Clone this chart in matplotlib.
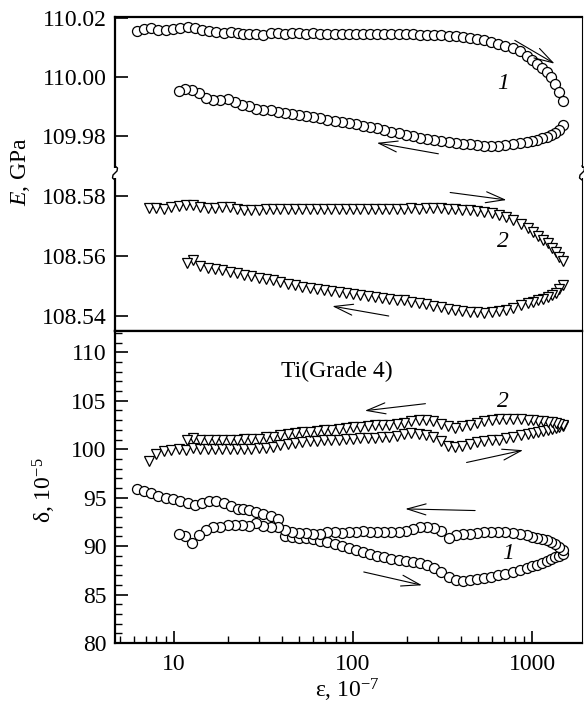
import numpy as np
import matplotlib.pyplot as plt
from matplotlib.lines import Line2D
from matplotlib.patches import Rectangle
from matplotlib.ticker import FixedLocator, MultipleLocator, FormatStrFormatter, NullFormatter, LogLocator

plt.rcParams['font.family'] = ['Liberation Serif', 'DejaVu Serif']
plt.rcParams['mathtext.fontset'] = 'custom'
plt.rcParams['mathtext.rm'] = 'Liberation Serif'
plt.rcParams['mathtext.it'] = 'Liberation Serif:italic'

# ---- sample 1 (circles): loading branch ----
eps1_up = [6.2, 6.8, 7.5, 8.2, 9.0, 9.9, 10.9, 12.0, 13.1, 14.4,
           15.8, 17.3, 19.0, 20.8, 22.8, 24.5, 26.3, 28.8, 31.6, 34.7,
           38.0, 41.6, 45.6, 50.0, 54.8, 60.0, 65.8, 72.1, 79.0, 86.6,
           94.9, 104, 114, 125, 137, 150, 164, 180, 197, 216,
           237, 260, 285, 312, 342, 375, 411, 450, 493, 540,
           592, 648, 710, 778, 852, 934, 1000, 1070, 1140, 1210,
           1280, 1350, 1420, 1480]
E1_up = [110.0155, 110.0162, 110.0165, 110.0160, 110.0160, 110.0162, 110.0167, 110.0170, 110.0167, 110.0160,
         110.0157, 110.0152, 110.0150, 110.0152, 110.0150, 110.0147, 110.0145, 110.0145, 110.0143, 110.0150,
         110.0148, 110.0147, 110.0149, 110.0148, 110.0147, 110.0148, 110.0147, 110.0146, 110.0147, 110.0146,
         110.0146, 110.0146, 110.0145, 110.0146, 110.0145, 110.0145, 110.0144, 110.0145, 110.0144, 110.0144,
         110.0143, 110.0143, 110.0142, 110.0141, 110.0140, 110.0138, 110.0136, 110.0133, 110.0130, 110.0126,
         110.0120, 110.0113, 110.0106, 110.0097, 110.0087, 110.0072, 110.0058, 110.0045, 110.0031, 110.0016,
         110.0000, 109.9975, 109.9950, 109.9920]
d1_up = [95.9, 95.7, 95.5, 95.15, 95.0, 94.9, 94.7, 94.4, 94.2, 94.4,
         94.65, 94.7, 94.4, 94.1, 93.85, 93.8, 93.7, 93.5, 93.3, 93.1,
         92.8, 91.0, 90.9, 90.8, 90.8, 90.7, 90.5, 90.4, 90.2, 90.0,
         89.8, 89.6, 89.4, 89.2, 89.0, 88.9, 88.7, 88.6, 88.5, 88.4,
         88.3, 88.1, 87.7, 87.3, 86.8, 86.5, 86.45, 86.55, 86.65, 86.75,
         86.85, 87.0, 87.15, 87.3, 87.5, 87.7, 87.9, 88.1, 88.3, 88.5,
         88.65, 88.85, 89.0, 89.2]

# ---- sample 1: unloading branch ----
eps1_dn = [1480, 1420, 1350, 1280, 1210, 1140, 1070, 1000, 934, 852,
           778, 710, 648, 592, 540, 493, 450, 411, 375, 342,
           312, 285, 260, 237, 216, 197, 180, 164, 150, 137,
           125, 114, 104, 94.9, 86.6, 79.0, 72.1, 65.8, 60.0, 54.8,
           50.0, 45.6, 41.6, 38.0, 34.7, 31.6, 28.8, 26.3, 24.0, 21.9,
           20.0, 18.2, 16.6, 15.2, 13.9, 12.7, 11.6, 10.7]
E1_dn = [109.9837, 109.9822, 109.9812, 109.9804, 109.9797, 109.9792, 109.9787, 109.9783, 109.9780, 109.9777,
         109.9773, 109.9770, 109.9767, 109.9767, 109.9768, 109.9770, 109.9772, 109.9774, 109.9777, 109.9780,
         109.9783, 109.9787, 109.9790, 109.9795, 109.9799, 109.9805, 109.9810, 109.9815, 109.9820, 109.9826,
         109.9830, 109.9835, 109.9840, 109.9844, 109.9848, 109.9852, 109.9856, 109.9860, 109.9864, 109.9868,
         109.9872, 109.9876, 109.9879, 109.9882, 109.9889, 109.9887, 109.9890, 109.9902, 109.9905, 109.9916,
         109.9924, 109.9923, 109.9923, 109.9930, 109.9945, 109.9957, 109.9960, 109.9953]
d1_dn = [89.6, 89.9, 90.2, 90.4, 90.6, 90.75, 90.85, 90.95, 91.1, 91.3,
         91.4, 91.45, 91.5, 91.5, 91.45, 91.35, 91.25, 91.2, 91.1, 90.8,
         91.6, 91.9, 92.0, 92.0, 91.8, 91.6, 91.5, 91.5, 91.45, 91.5,
         91.5, 91.6, 91.5, 91.45, 91.4, 91.45, 91.5, 91.3, 91.3, 91.4,
         91.35, 91.5, 91.7, 92.0, 92.0, 92.1, 92.4, 92.1, 92.2, 92.2,
         92.2, 92.0, 92.0, 91.7, 91.1, 90.3, 91.0, 91.3]

# ---- sample 2 (triangles): loading branch ----
eps2_up = [7.3, 8.0, 8.8, 9.7, 10.7, 11.7, 12.8, 14.1, 15.5, 17.0,
           18.7, 20.5, 22.5, 24.7, 27.1, 29.8, 32.7, 35.9, 39.4, 43.3,
           47.5, 52.2, 57.3, 62.9, 69.1, 75.9, 83.3, 91.5, 100, 110,
           121, 133, 146, 160, 176, 193, 212, 233, 256, 281,
           309, 339, 372, 409, 449, 493, 541, 594, 652, 716,
           786, 863, 947, 1010, 1080, 1150, 1220, 1290, 1360, 1420,
           1480]
E2_up = [108.5759, 108.5761, 108.5758, 108.5763, 108.5768, 108.5771, 108.5770, 108.5762, 108.5760, 108.5761,
         108.5762, 108.5763, 108.5757, 108.5755, 108.5753, 108.5755, 108.5756, 108.5756, 108.5756, 108.5757,
         108.5756, 108.5756, 108.5757, 108.5756, 108.5757, 108.5757, 108.5756, 108.5757, 108.5757, 108.5757,
         108.5757, 108.5758, 108.5757, 108.5758, 108.5758, 108.5758, 108.5759, 108.5758, 108.5759, 108.5760,
         108.5759, 108.5758, 108.5757, 108.5755, 108.5752, 108.5750, 108.5747, 108.5743, 108.5737, 108.5730,
         108.5720, 108.5708, 108.5692, 108.5680, 108.5668, 108.5655, 108.5642, 108.5628, 108.5612, 108.5598,
         108.5585]
d2_up = [98.8, 99.5, 99.8, 99.9, 100.0, 99.95, 100.1, 100.0, 100.0, 100.0,
         100.0, 100.0, 100.0, 100.0, 100.05, 100.1, 100.1, 100.2, 100.4, 100.5,
         100.6, 100.7, 100.8, 100.85, 100.9, 100.95, 101.0, 101.1, 101.1, 101.15,
         101.2, 101.2, 101.25, 101.3, 101.4, 101.6, 101.7, 101.6, 101.5, 101.3,
         100.8, 100.3, 100.2, 100.35, 100.55, 100.7, 100.8, 100.9, 101.0, 101.2,
         101.3, 101.45, 101.6, 101.7, 101.8, 101.9, 101.95, 102.05, 102.15, 102.25,
         102.4]

# ---- sample 2: unloading branch ----
eps2_dn = [1480, 1420, 1360, 1290, 1220, 1150, 1080, 1010, 947, 863,
           786, 716, 652, 594, 541, 493, 449, 409, 372, 339,
           309, 281, 256, 233, 212, 193, 176, 160, 146, 133,
           121, 110, 100, 91.5, 83.3, 75.9, 69.1, 62.9, 57.3, 52.2,
           47.5, 43.3, 39.4, 35.9, 32.7, 29.8, 27.1, 24.7, 22.5, 20.5,
           18.7, 17.0, 15.5, 14.1, 12.8, 11.8]
E2_dn = [108.5502, 108.5490, 108.5478, 108.5470, 108.5463, 108.5458, 108.5452, 108.5447, 108.5443, 108.5436,
         108.5428, 108.5421, 108.5416, 108.5412, 108.5411, 108.5412, 108.5415, 108.5418, 108.5421, 108.5425,
         108.5430, 108.5435, 108.5440, 108.5444, 108.5448, 108.5452, 108.5455, 108.5458, 108.5460, 108.5463,
         108.5466, 108.5469, 108.5473, 108.5477, 108.5480, 108.5484, 108.5488, 108.5491, 108.5494, 108.5498,
         108.5503, 108.5508, 108.5515, 108.5520, 108.5523, 108.5527, 108.5535, 108.5538, 108.5543, 108.5548,
         108.5552, 108.5556, 108.5559, 108.5568, 108.5587, 108.5576]
d2_dn = [102.5, 102.6, 102.7, 102.8, 102.85, 102.9, 102.95, 103.0, 103.05, 103.1,
         103.1, 103.1, 103.1, 103.05, 102.95, 102.7, 102.55, 102.4, 102.2, 102.4,
         102.6, 102.95, 103.0, 103.0, 102.95, 102.7, 102.6, 102.5, 102.5, 102.45,
         102.4, 102.3, 102.25, 102.2, 102.1, 102.0, 101.95, 101.9, 101.8, 101.75,
         101.65, 101.6, 101.45, 101.3, 101.25, 101.1, 101.05, 101.05, 101.0, 101.0,
         101.0, 101.0, 101.0, 100.95, 101.2, 101.0]

W, H = 584, 709
fig = plt.figure(figsize=(W / 100, H / 100), dpi=100)

def fx(px):
    return px / W

def fy(py):
    return 1 - py / H

x0, x1 = 115, 582
y_top, y_brk, y_mid, y_bot = 17, 173, 331, 643
ax_hi = fig.add_axes([fx(x0), fy(y_brk), fx(x1) - fx(x0), (y_brk - y_top) / H])
ax_lo = fig.add_axes([fx(x0), fy(y_mid), fx(x1) - fx(x0), (y_mid - y_brk) / H])
ax_d = fig.add_axes([fx(x0), fy(y_bot), fx(x1) - fx(x0), (y_bot - y_mid) / H])

circ = dict(ls='none', marker='o', ms=7.2, mfc='white', mec='black', mew=0.9)
tri = dict(ls='none', marker='v', ms=7.8, mfc='white', mec='black', mew=0.9)

ax_hi.plot(eps1_up, E1_up, **circ)
ax_hi.plot(eps1_dn, E1_dn, **circ)
ax_lo.plot(eps2_up, E2_up, **tri)
ax_lo.plot(eps2_dn, E2_dn, **tri)
ax_d.plot(eps2_up, d2_up, **tri)
ax_d.plot(eps2_dn, d2_dn, **tri)
ax_d.plot(eps1_up, d1_up, **circ)
ax_d.plot(eps1_dn, d1_dn, **circ)

fs = 17
for ax in (ax_hi, ax_lo, ax_d):
    ax.set_xscale('log')
    ax.set_xlim(4.7, 1900)
    for s in ('left', 'top', 'bottom'):
        ax.spines[s].set_linewidth(1.6)
    ax.spines['right'].set_linewidth(0.8)
    ax.tick_params(axis='y', which='major', direction='in', length=9, width=1.2,
                   labelsize=fs, pad=6, right=False)
    ax.tick_params(axis='y', which='minor', direction='in', length=5, width=1.0, right=False)

ax_hi.spines['bottom'].set_visible(False)
ax_lo.spines['top'].set_visible(False)
for ax in (ax_hi, ax_lo):
    ax.tick_params(axis='x', which='both', bottom=False, top=False, labelbottom=False)
    ax.yaxis.set_major_formatter(FormatStrFormatter('%.2f'))

ax_hi.set_ylim(109.9675, 110.0203)
ax_hi.yaxis.set_major_locator(FixedLocator([109.98, 110.00, 110.02]))
ax_lo.set_ylim(108.535, 108.5877)
ax_lo.yaxis.set_major_locator(FixedLocator([108.54, 108.56, 108.58]))

ax_d.set_ylim(80, 112.2)
ax_d.yaxis.set_major_locator(MultipleLocator(5))
ax_d.yaxis.set_minor_locator(MultipleLocator(1))
ax_d.xaxis.set_major_locator(FixedLocator([10, 100, 1000]))
ax_d.xaxis.set_major_formatter(FormatStrFormatter('%d'))
ax_d.xaxis.set_minor_locator(LogLocator(base=10, subs=np.arange(2, 10)))
ax_d.xaxis.set_minor_formatter(NullFormatter())
ax_d.tick_params(axis='x', which='major', direction='in', length=9, width=1.2,
                 labelsize=fs, pad=8, top=False)
ax_d.tick_params(axis='x', which='minor', direction='in', length=5, width=1.0, top=False)

# arrows showing the direction of strain change
arr = dict(arrowstyle='->,head_length=0.75,head_width=0.22', lw=0.8, color='black',
           shrinkA=0, shrinkB=0, mutation_scale=18)
ax_hi.annotate('', xy=(1336, 110.0045), xytext=(801, 110.0124), arrowprops=arr)
ax_hi.annotate('', xy=(136, 109.9777), xytext=(300, 109.9740), arrowprops=arr)
ax_lo.annotate('', xy=(720, 108.5787), xytext=(349, 108.5812), arrowprops=arr)
ax_lo.annotate('', xy=(76.7, 108.5433), xytext=(158.5, 108.5400), arrowprops=arr)
ax_d.annotate('', xy=(116.6, 103.97), xytext=(254, 104.7), arrowprops=arr)
ax_d.annotate('', xy=(891, 99.9), xytext=(431, 98.63), arrowprops=arr)
ax_d.annotate('', xy=(196, 93.84), xytext=(481, 93.67), arrowprops=arr)
ax_d.annotate('', xy=(243, 85.96), xytext=(115, 87.33), arrowprops=arr)

ax_hi.text(690, 109.9979, '1', fontsize=fs, style='italic', ha='center', va='center')
ax_lo.text(690, 108.5648, '2', fontsize=fs, style='italic', ha='center', va='center')
ax_d.text(690, 104.97, '2', fontsize=fs, style='italic', ha='center', va='center')
ax_d.text(736, 89.2, '1', fontsize=fs, style='italic', ha='center', va='center')
ax_d.text(81.5, 108.06, 'Ti(Grade 4)', fontsize=fs, ha='center', va='center')

# axis labels
fig.text(fx(20), fy(172), r'$\mathit{E}$, GPa', fontsize=fs, rotation=90, ha='center', va='center')
fig.text(fx(44), fy(490), r'δ, 10$^{\mathregular{-5}}$', fontsize=fs, rotation=90, ha='center', va='center')
fig.text(fx(347), fy(690), r'ε, 10$^{\mathregular{-7}}$', fontsize=fs, ha='center', va='center')

# break marks on both vertical spines
for px, lw in ((x0, 1.6), (x1, 0.8)):
    fig.add_artist(Rectangle((fx(px) - 4 / W, fy(y_brk) - 5 / H), 8 / W, 10 / H,
                             transform=fig.transFigure, facecolor='white', edgecolor='none', zorder=5))
    sx = [px, px + 2.5, px + 2, px, px - 2, px - 2.5, px]
    sy = [y_brk - 7, y_brk - 5, y_brk - 2, y_brk, y_brk + 2, y_brk + 5, y_brk + 7]
    fig.add_artist(Line2D([fx(v) for v in sx], [fy(v) for v in sy], transform=fig.transFigure,
                          color='black', lw=1.0, zorder=6))

fig.savefig('out.png', dpi=100)
